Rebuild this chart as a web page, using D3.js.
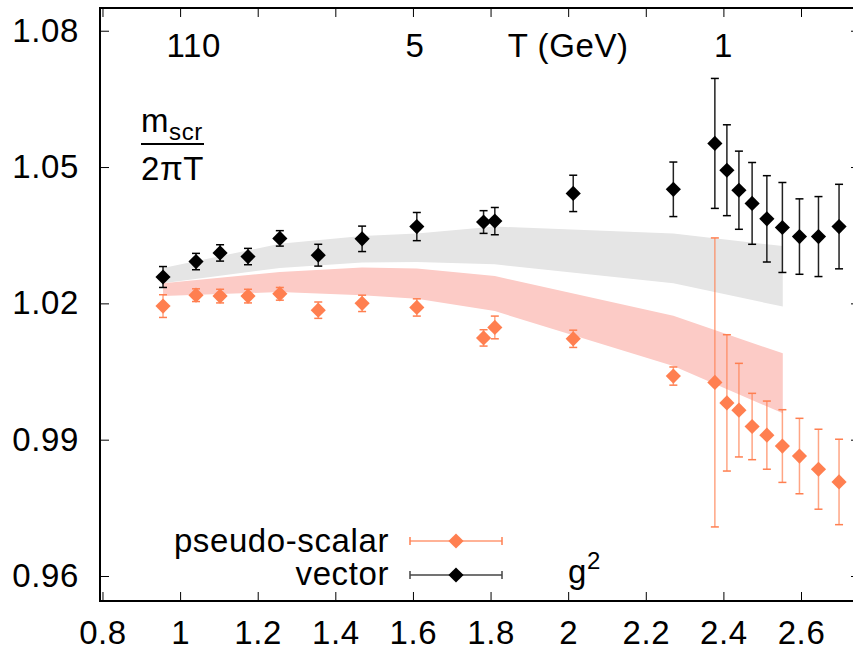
<!DOCTYPE html>
<html>
<head>
<meta charset="utf-8">
<script src="https://cdn.jsdelivr.net/npm/d3@7"></script>
<style>
  body { margin: 0; background: #fff; }
  svg text { font-family: 'Liberation Sans', Arial, sans-serif; fill: #000; letter-spacing: 0.6px; }
</style>
</head>
<body>
<svg id="chart" width="853" height="652"></svg>
<script>
// temperatures shared by both channels
const temps = [0.956, 1.041, 1.103, 1.175, 1.257, 1.356, 1.469, 1.61, 1.782, 1.811, 2.013, 2.271, 2.378, 2.409, 2.44, 2.474, 2.512, 2.552, 2.596, 2.645, 2.698];

// vector channel
const vectorMass = [1.0258, 1.0292, 1.0311, 1.0303, 1.0343, 1.0306, 1.0342, 1.0369, 1.0379, 1.0381, 1.0442, 1.0451, 1.0552, 1.0493, 1.0449, 1.0420, 1.0386, 1.0367, 1.0347, 1.0347, 1.0369];
const vectorErr = [0.0023, 0.0018, 0.0018, 0.0018, 0.0017, 0.0024, 0.0028, 0.0031, 0.0025, 0.0030, 0.0040, 0.0060, 0.0143, 0.0100, 0.0086, 0.0090, 0.0095, 0.0099, 0.0083, 0.0088, 0.0093];

// pseudo-scalar channel
const psMass = [1.0194, 1.0218, 1.0216, 1.0216, 1.0221, 1.0185, 1.0200, 1.0191, 1.0124, 1.0147, 1.0122, 1.0040, 1.0026, 0.9981, 0.9965, 0.9929, 0.9910, 0.9886, 0.9864, 0.9835, 0.9807];
const psErr = [0.0025, 0.0014, 0.0015, 0.0015, 0.0014, 0.0018, 0.0018, 0.0019, 0.0018, 0.0025, 0.0019, 0.0020, 0.0318, 0.0150, 0.0103, 0.0073, 0.0075, 0.0080, 0.0083, 0.0088, 0.0094];

// g^2 bands
const bandT = [0.956, 1.257, 1.469, 1.61, 1.811, 2.271, 2.553];
const vectorBandHi = [1.0278, 1.0331, 1.0348, 1.0354, 1.0369, 1.0354, 1.0326];
const vectorBandLo = [1.0244, 1.0278, 1.0290, 1.0291, 1.0286, 1.0244, 1.0193];
const psBandHi = [1.0244, 1.0269, 1.0279, 1.0277, 1.0260, 1.0173, 1.0090];
const psBandLo = [1.0216, 1.0225, 1.0218, 1.0210, 1.0183, 1.0062, 0.9958];

// axes
const xTicks = [0.8, 1, 1.2, 1.4, 1.6, 1.8, 2, 2.2, 2.4, 2.6];
const xTickLabels = ['0.8', '1', '1.2', '1.4', '1.6', '1.8', '2', '2.2', '2.4', '2.6'];
const yTicks = [0.96, 0.99, 1.02, 1.05, 1.08];
const yTickLabels = ['0.96', '0.99', '1.02', '1.05', '1.08'];
const topLabels = ['110', '5', 'T (GeV)', '1'];
const topLabelAt = [1.035, 1.605, 2.0, 2.40];

const ORANGE = '#ff7f50';
const FONT = 33;

const svg = d3.select('#chart');

const x = d3.scaleLinear().domain([0.7936, 2.752]).range([100, 860]);
const y = d3.scaleLinear().domain([0.9545, 1.085]).range([601, 8]);

// bands
const bandData = bandT.map((t, i) => ({ t: t, vlo: vectorBandLo[i], vhi: vectorBandHi[i], plo: psBandLo[i], phi: psBandHi[i] }));

svg.append('path')
    .datum(bandData)
    .attr('fill', '#e5e5e5')
    .attr('d', d3.area().x(d => x(d.t)).y0(d => y(d.vlo)).y1(d => y(d.vhi)));

svg.append('path')
    .datum(bandData)
    .attr('fill', '#fccbc6')
    .attr('d', d3.area().x(d => x(d.t)).y0(d => y(d.plo)).y1(d => y(d.phi)));

// axes, ticks pointing inward
function styleAxis(g) {
    g.select('.domain').remove();
    g.selectAll('.tick line').attr('stroke', '#000').attr('stroke-width', 1);
    g.selectAll('.tick text').attr('font-size', FONT).attr('font-family', 'Liberation Sans, Arial, sans-serif');
}

svg.append('g')
    .attr('transform', 'translate(0,601)')
    .call(d3.axisBottom(x).tickValues(xTicks).tickFormat((d, i) => xTickLabels[i]).tickSizeInner(-9).tickSizeOuter(0).tickPadding(20))
    .call(styleAxis);

svg.append('g')
    .attr('transform', 'translate(0,8)')
    .call(d3.axisTop(x).tickValues(xTicks).tickFormat('').tickSizeInner(-9).tickSizeOuter(0))
    .call(styleAxis);

svg.append('g')
    .attr('transform', 'translate(100,0)')
    .call(d3.axisLeft(y).tickValues(yTicks).tickFormat((d, i) => yTickLabels[i]).tickSizeInner(-9).tickSizeOuter(0).tickPadding(21))
    .call(styleAxis);

svg.append('g')
    .attr('transform', 'translate(860,0)')
    .call(d3.axisRight(y).tickValues(yTicks).tickFormat('').tickSizeInner(-9).tickSizeOuter(0))
    .call(styleAxis);

// frame
svg.append('rect')
    .attr('x', 100).attr('y', 8)
    .attr('width', 760).attr('height', 593)
    .attr('fill', 'none')
    .attr('stroke', '#000')
    .attr('stroke-width', 2);

// top temperature labels
svg.append('g')
    .selectAll('text')
    .data(topLabels)
    .enter()
    .append('text')
    .attr('x', (d, i) => x(topLabelAt[i]))
    .attr('y', 57)
    .attr('text-anchor', 'middle')
    .attr('font-size', FONT)
    .text(d => d);

// error bars + diamonds
const diamond = d3.symbol().type(d3.symbolSquare).size(115);

function drawSeries(mass, err, color, barColor, barOpacity) {
    const pts = temps.map((t, i) => ({ t: t, m: mass[i], e: err[i] }));
    const g = svg.append('g');

    const bars = g.selectAll('g.bar')
        .data(pts)
        .enter()
        .append('g')
        .attr('class', 'bar');

    bars.append('line')
        .attr('x1', d => x(d.t)).attr('x2', d => x(d.t))
        .attr('y1', d => y(d.m - d.e)).attr('y2', d => y(d.m + d.e))
        .attr('stroke', barColor)
        .attr('stroke-opacity', barOpacity)
        .attr('stroke-width', 1.5);

    [-1, 1].forEach(s => {
        bars.append('line')
            .attr('x1', d => x(d.t) - 4).attr('x2', d => x(d.t) + 4)
            .attr('y1', d => y(d.m + s * d.e)).attr('y2', d => y(d.m + s * d.e))
            .attr('stroke', color)
            .attr('stroke-width', 1.5);
    });

    g.selectAll('path.pt')
        .data(pts)
        .enter()
        .append('path')
        .attr('class', 'pt')
        .attr('d', diamond)
        .attr('transform', d => `translate(${x(d.t)},${y(d.m)}) rotate(45)`)
        .attr('fill', color);
}

drawSeries(psMass, psErr, ORANGE, ORANGE, 0.7);
drawSeries(vectorMass, vectorErr, '#000', '#222', 1);

// legend
const legend = [
    { label: 'pseudo-scalar', color: ORANGE, barColor: ORANGE, op: 0.8, ty: 552, ly: 541 },
    { label: 'vector', color: '#000', barColor: '#444', op: 1, ty: 585, ly: 575 }
];
legend.forEach(l => {
    svg.append('text')
        .attr('x', 389).attr('y', l.ty)
        .attr('text-anchor', 'end')
        .attr('font-size', FONT)
        .text(l.label);
    svg.append('line')
        .attr('x1', 410).attr('x2', 502).attr('y1', l.ly).attr('y2', l.ly)
        .attr('stroke', l.barColor).attr('stroke-opacity', l.op).attr('stroke-width', 1.5);
    [410, 502].forEach(cx => {
        svg.append('line')
            .attr('x1', cx).attr('x2', cx).attr('y1', l.ly - 4).attr('y2', l.ly + 4)
            .attr('stroke', l.barColor).attr('stroke-width', 1.5);
    });
    svg.append('path')
        .attr('d', diamond)
        .attr('transform', `translate(456,${l.ly}) rotate(45)`)
        .attr('fill', l.color);
});

// g^2 label
const g2 = svg.append('text')
    .attr('x', 568).attr('y', 583)
    .attr('font-size', FONT);
g2.append('tspan').text('g');
g2.append('tspan').attr('dy', -14).attr('font-size', 24).text('2');

// y label as a fraction
const num = svg.append('text')
    .attr('x', 141).attr('y', 132)
    .attr('font-size', FONT);
num.append('tspan').text('m');
num.append('tspan').attr('dy', 8).attr('font-size', 24).text('scr');

svg.append('line')
    .attr('x1', 141).attr('x2', 204)
    .attr('y1', 144).attr('y2', 144)
    .attr('stroke', '#000').attr('stroke-width', 2);

svg.append('text')
    .attr('x', 141).attr('y', 180)
    .attr('font-size', FONT)
    .text('2πT');
</script>
</body>
</html>
